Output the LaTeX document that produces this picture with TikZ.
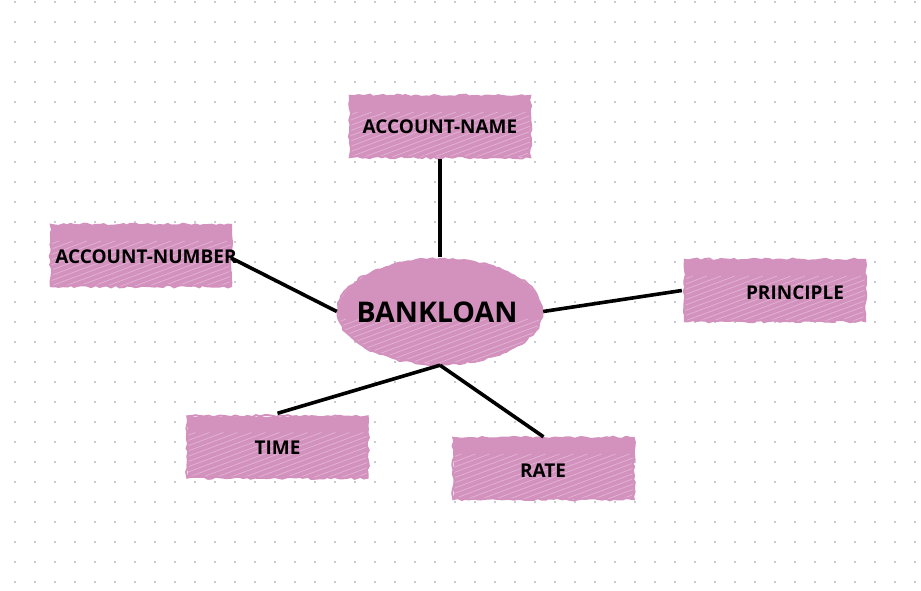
\documentclass[tikz,border=0pt]{standalone}
\usepackage{fontspec}
\setmainfont{Open Sans}
\usetikzlibrary{shapes.geometric,decorations.pathmorphing}
\definecolor{pinkfill}{RGB}{211,145,190}
\definecolor{dotcol}{RGB}{200,203,212}
\pgfmathsetseed{7}
\tikzset{
  x=1pt,y=-1pt,
  scribble/.style={fill=pinkfill,
    path picture={
      \foreach \k in {-14,...,14}{
        \draw[white,opacity=0.3,line width=0.8pt]
          ([xshift=\k*14pt]path picture bounding box.south west) -- ++(120pt,45pt);
      }}},
  ragged/.style={draw=pinkfill,line width=2pt,
    decorate,decoration={random steps,segment length=4pt,amplitude=1.2pt}},
  attr/.style={scribble,draw=none,minimum width=180pt,minimum height=61pt,
    inner sep=0pt},
  ent/.style={scribble,ellipse,draw=none,minimum width=204pt,minimum height=105pt,
    inner sep=0pt},
  lbl/.style={font=\bfseries\fontsize{19}{21}\selectfont},
  biglbl/.style={font=\bfseries\fontsize{28.5}{32}\selectfont},
  conn/.style={line width=3.6pt,black}
}
\begin{document}
\begin{tikzpicture}
\useasboundingbox (0,0) rectangle (921,591);
\fill[white] (0,0) rectangle (921,591);
\foreach \i in {0,...,45}{
  \foreach \j in {0,...,29}{
    \fill[dotcol] (15+20*\i-1,2+20*\j-1) rectangle ++(2,2);
  }}
\node[attr] (name) at (440,126.5) {};
\node[attr] (num) at (141,255.5) {};
\node[attr] (prin) at (775,290.5) {};
\node[attr] (time) at (277.5,447) {};
\node[attr] (rate) at (543.5,468.5) {};
\node[ent] (bank) at (440,311.5) {};
\foreach \n in {name,num,prin,time,rate}{
  \draw[ragged] (\n.north west) rectangle (\n.south east);
}
\draw[ragged] (bank.center) ellipse (102pt and 52.5pt);
\node[lbl] (tname) at (name.center) {ACCOUNT-NAME};
\node[lbl] (tnum) at (146,256.5) {ACCOUNT-NUMBER};
\node[lbl] (tprin) at (795,292.5) {PRINCIPLE};
\node[lbl] (ttime) at (277.5,447.5) {TIME};
\node[lbl] (trate) at (543,471) {RATE};
\node[biglbl] (tbank) at (437,312) {BANKLOAN};
\draw[conn] ([yshift=-2pt]name.south) -- ([yshift=2pt]bank.north);
\draw[conn] ([yshift=-2.5pt]num.east) -- ([xshift=-1pt]bank.west);
\draw[conn] ([xshift=1pt]bank.east) -- ([xshift=-3pt]prin.west);
\draw[conn] ([yshift=-1pt]bank.south) -- ([yshift=3pt]time.north);
\draw[conn] ([yshift=-1pt]bank.south) -- ([yshift=1pt]rate.north);
\end{tikzpicture}
\end{document}
